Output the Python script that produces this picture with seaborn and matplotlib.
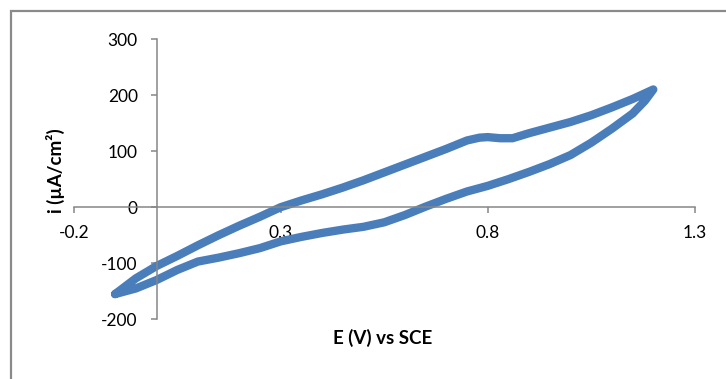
import matplotlib
matplotlib.use("Agg")
import matplotlib.pyplot as plt
from matplotlib.patches import Rectangle
import numpy as np
import pandas as pd
import seaborn as sns

# Cyclic voltammogram: forward (anodic) scan then reverse scan
e_forward = [-0.10, -0.05, 0.00, 0.05, 0.10, 0.15, 0.20, 0.25, 0.30, 0.35, 0.40,
             0.45, 0.50, 0.55, 0.60, 0.65, 0.70, 0.75, 0.78, 0.80, 0.83, 0.86,
             0.90, 0.95, 1.00, 1.05, 1.10, 1.15, 1.20]
i_forward = [-155, -127, -105, -87, -68, -50, -33, -17, 0, 12, 23,
             35, 48, 62, 76, 90, 104, 119, 124, 125, 123, 123,
             132, 142, 152, 164, 178, 193, 210]

e_reverse = [1.20, 1.18, 1.15, 1.10, 1.05, 1.00, 0.95, 0.90, 0.85, 0.80, 0.75,
             0.70, 0.65, 0.60, 0.55, 0.50, 0.45, 0.40, 0.35, 0.30, 0.25, 0.20,
             0.15, 0.10, 0.05, 0.00, -0.05, -0.10]
i_reverse = [210, 190, 167, 140, 115, 93, 77, 63, 50, 38, 28,
             15, 1, -14, -27, -35, -40, -46, -53, -61, -73, -82,
             -90, -97, -112, -130, -145, -155]

x_ticks = [-0.2, 0.3, 0.8, 1.3]
y_ticks = [-200, -100, 0, 100, 200, 300]

df = pd.DataFrame({
    "E": e_forward + e_reverse,
    "i": i_forward + i_reverse,
})

sns.set_theme(style="white")
plt.rcParams["font.family"] = ["Lato", "DejaVu Sans"]

W, H = 726, 379
fig = plt.figure(figsize=(W / 100, H / 100), dpi=100)
ax = fig.add_axes([73.7 / W, 1 - 319.3 / H, 621 / W, 280.3 / H])

line_color = "#4A7EBB"
sns.lineplot(data=df, x="E", y="i", sort=False, estimator=None, ax=ax,
             color=line_color, linewidth=6.0, solid_capstyle="round",
             solid_joinstyle="round")

ax.set_xlim(-0.2, 1.3)
ax.set_ylim(-200, 300)
ax.set_xticks(x_ticks)
ax.set_xticklabels([f"{v:g}" for v in x_ticks])
ax.set_yticks(y_ticks)
ax.set_yticklabels([str(v) for v in y_ticks])

axis_gray = "#868686"
ax.spines["left"].set_position(("data", 0))
ax.spines["bottom"].set_position(("data", 0))
ax.spines["top"].set_visible(False)
ax.spines["right"].set_visible(False)
for s in ("left", "bottom"):
    ax.spines[s].set_color(axis_gray)
    ax.spines[s].set_linewidth(1.1)
ax.set_zorder(1)
ax.patch.set_alpha(0)

ax.tick_params(axis="both", which="major", direction="out", length=4.5,
               width=1.1, color=axis_gray, labelsize=12.5, labelcolor="black")
ax.tick_params(axis="x", pad=8, bottom=True)
ax.tick_params(axis="y", pad=9, left=True)
ax.grid(False)

ax.set_xlabel("")
ax.set_ylabel("")
fig.text(383 / W, 1 - 338 / H, "E (V) vs SCE", ha="center", va="center",
         fontsize=13.5, fontweight="bold", color="black")
fig.text(55 / W, 1 - 171 / H, "i (µA/cm²)", ha="center", va="center",
         rotation=90, fontsize=13.5, fontweight="bold", color="black")

# chart-area border
fig.patches.append(Rectangle((10.5 / W, -0.1), 1.2, 1 - 10.5 / H + 0.1,
                             transform=fig.transFigure, fill=False,
                             edgecolor="#8a8a8a", linewidth=1.6, zorder=0))

fig.savefig("out.png", dpi=100)
